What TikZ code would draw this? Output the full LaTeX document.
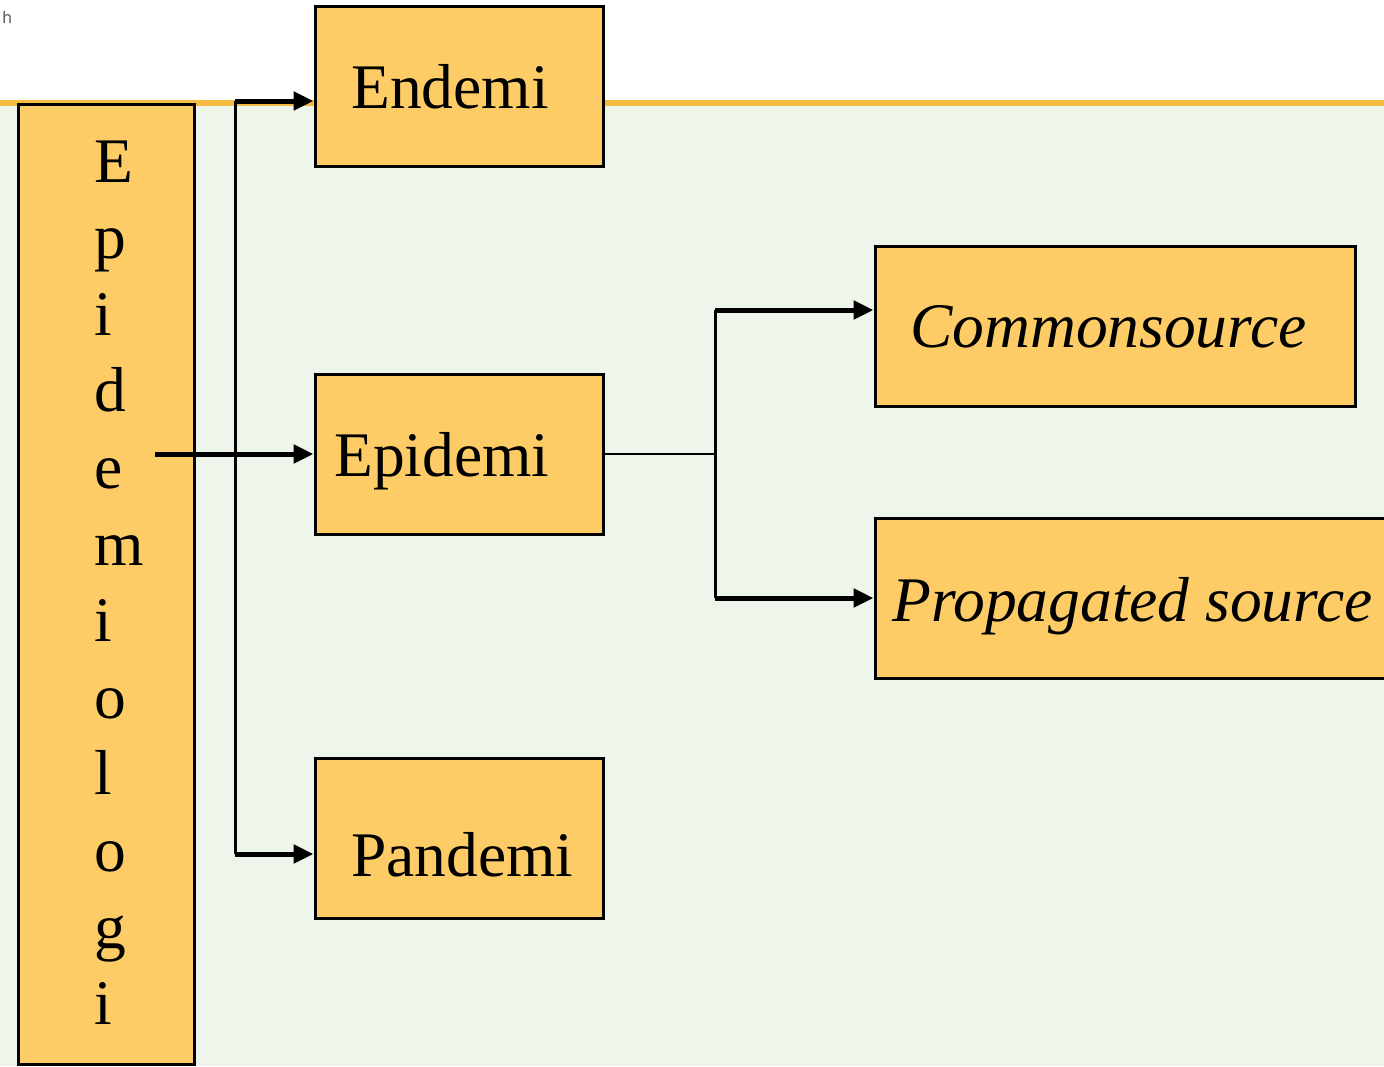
\documentclass[tikz,border=0pt]{standalone}
\usepackage{fontspec}
\setmainfont{Liberation Serif}
\newfontfamily\notefont{DejaVu Sans}
\usetikzlibrary{arrows.meta}
\definecolor{boxfill}{RGB}{254,204,102}
\definecolor{panel}{RGB}{238,245,234}
\definecolor{rulecol}{RGB}{245,186,66}

\begin{document}
\begin{tikzpicture}[x=1pt,y=-1pt,
  box/.style={draw=black, line width=3pt, fill=boxfill, rectangle, inner sep=0pt},
  bigtext/.style={font=\fontsize{63.5}{76}\selectfont, inner sep=0pt, anchor=base west},
  slanted/.style={bigtext, font=\fontsize{63.5}{76}\selectfont\itshape},
  trunk/.style={draw=black, line width=3pt},
  feeder/.style={draw=black, line width=2pt},
  link/.style={draw=black, line width=5pt, -{Triangle[length=20pt,width=18pt]}}]

  \useasboundingbox (0,0) rectangle (1384,1066);
  \clip (0,0) rectangle (1384,1066);

  % background: white header, orange rule, pale green panel
  \fill[white] (0,0) rectangle (1384,100);
  \fill[panel] (0,106) rectangle (1384,1066);
  \fill[rulecol] (0,100) rectangle (1384,106);

  \node[font=\notefont\fontsize{16}{16}\selectfont, text=black!65, anchor=base west, inner sep=0pt] (mark) at (2,23) {h};

  % boxes
  \node[box, minimum width=176, minimum height=960] (epi) at (106,584) {};
  \node[box, minimum width=288, minimum height=160] (endemi) at (459,86) {};
  \node[box, minimum width=288, minimum height=160] (epidemi) at (459,454) {};
  \node[box, minimum width=288, minimum height=160] (pandemi) at (459,838) {};
  \node[box, minimum width=480, minimum height=160] (common) at (1115,326) {};
  \node[box, minimum width=530, minimum height=160] (prop) at (1140,598) {};

  % vertical title, one letter per line
  \foreach \ch [count=\k from 0] in {E,p,i,d,e,m,i,o,l,o,g,i}
    \node[bigtext] (title\k) at (94,182+76.6*\k) {\ch};

  % box labels
  \node[bigtext] (endemiText) at (351,108) {Endemi};
  \node[bigtext] (epidemiText) at (334,476) {Epidemi};
  \node[bigtext] (pandemiText) at (351,876) {Pandemi};
  \node[slanted] (commonText) at (910,347) {Commonsource};
  \node[slanted] (propText) at (892,621) {Propagated source};

  % left branching
  \coordinate (lt) at (235,101);
  \coordinate (lb) at (235,854);
  \coordinate (ls) at (155,454);
  \draw[trunk] (lt) -- (lb);
  \draw[link] (lt) -- (lt -| endemi.west);
  \draw[link] (ls) -- (ls -| epidemi.west);
  \draw[link] (lb) -- (lb -| pandemi.west);

  % right branching
  \coordinate (rj) at (715,454);
  \coordinate (rt) at (715,310);
  \coordinate (rb) at (715,598);
  \draw[feeder] (epidemi.east) -- (rj);
  \draw[trunk] (rt) -- (rb);
  \draw[link] (rt) -- (rt -| common.west);
  \draw[link] (rb) -- (rb -| prop.west);
\end{tikzpicture}
\end{document}
